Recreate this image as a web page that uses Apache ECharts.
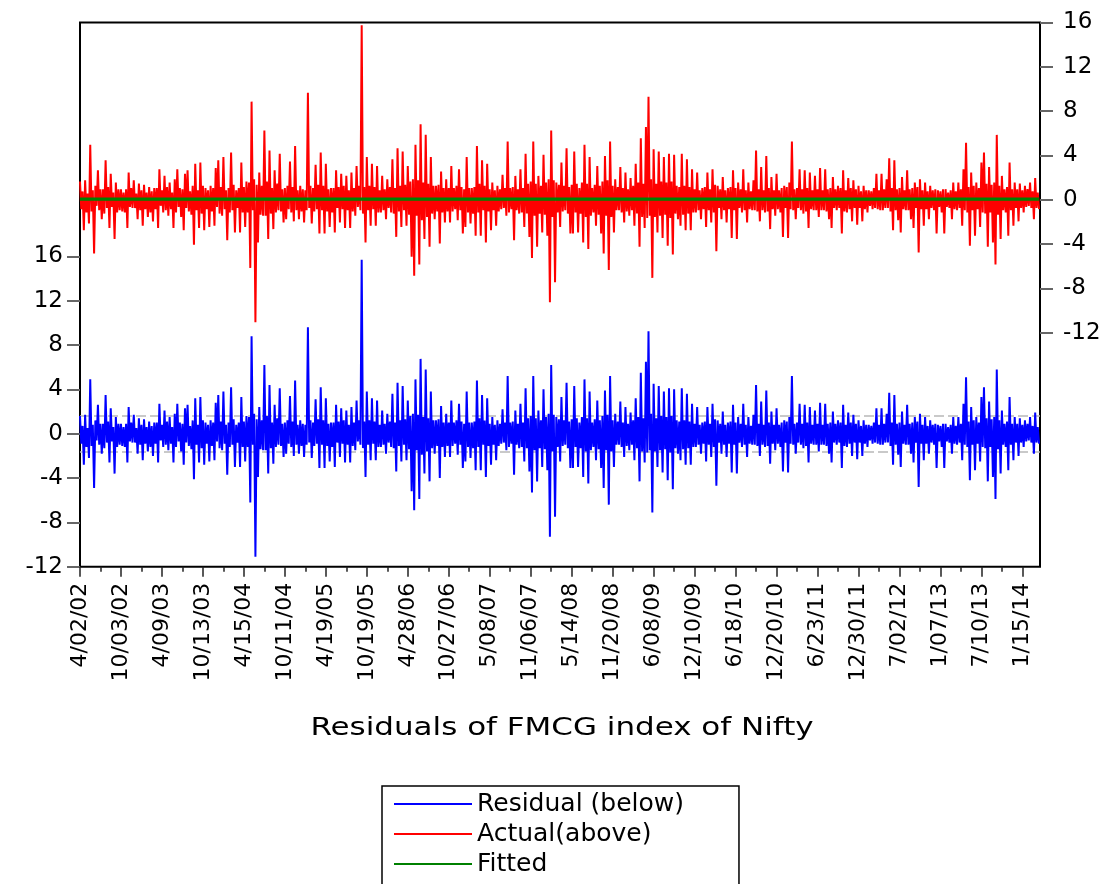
<!DOCTYPE html>
<html>
<head>
<meta charset="utf-8">
<script src="https://cdn.jsdelivr.net/npm/echarts@6.0.0/dist/echarts.min.js"></script>
<style>
html, body { margin: 0; padding: 0; background: #fff; }
#chart { width: 1119px; height: 884px; }
</style>
</head>
<body>
<div id="chart"></div>
<script>
// date labels on the bottom axis, one every ~125 trading days
var tickLabels = ['4/02/02', '10/03/02', '4/09/03', '10/13/03', '4/15/04', '10/11/04',
	'4/19/05', '10/19/05', '4/28/06', '10/27/06', '5/08/07', '11/06/07', '5/14/08',
	'11/20/08', '6/08/09', '12/10/09', '6/18/10', '12/20/10', '6/23/11', '12/30/11',
	'7/02/12', '1/07/13', '7/10/13', '1/15/14'];

// residuals, 32 readings per label step (one row per step)
var residual = [
	1.6, -0.9, 0.7, -2.8, 1.7, -1.2, 0.5, -2.2, 4.9, -1.1, 0.8, -4.9, 1.2, -0.6, 2.6, -1.0, 0.9, -1.8, 0.9, -1.3, 3.5, -0.8, 1.1, -2.6, 2.3, -0.7, 0.6, -3.6, 1.5, -1.2, 0.9, -1.0,
	0.9, -1.1, 0.6, -1.2, 0.9, -2.6, 2.4, -0.7, 1.0, -0.8, 1.7, -0.8, 0.5, -1.8, 1.4, -1.0, 0.8, -2.4, 1.3, -0.9, 0.6, -1.6, 1.1, -1.2, 0.7, -2.0, 1.0, -0.9, 1.0, -2.6, 2.7, -0.6,
	0.8, -1.2, 2.1, -1.0, 1.1, -1.5, 1.5, -0.9, 0.6, -2.6, 1.8, -1.2, 2.7, -0.7, 1.0, -1.6, 0.9, -2.8, 2.3, -0.8, 2.6, -1.1, 0.7, -1.4, 1.2, -4.1, 3.2, -1.0, 0.8, -2.6, 3.3, -1.3,
	1.2, -2.8, 1.0, -0.9, 0.8, -2.5, 1.2, -1.1, 1.0, -2.4, 2.8, -0.7, 3.5, -1.3, 1.1, -1.5, 3.8, -0.9, 0.8, -3.7, 1.0, -1.2, 4.2, -1.0, 1.3, -3.0, 0.8, -0.8, 1.0, -3.0, 3.3, -1.2,
	1.1, -2.5, 1.6, -1.2, 1.5, -6.2, 8.8, -1.0, 1.8, -11.1, 1.3, -3.9, 2.4, -1.4, 1.2, -1.5, 6.2, -1.5, 1.6, -3.6, 4.4, -1.3, 1.0, -2.7, 2.6, -1.2, 1.4, -1.0, 4.1, -1.1, 0.9, -2.1,
	1.0, -1.8, 1.2, -0.9, 3.4, -1.2, 1.1, -2.0, 4.8, -1.0, 0.8, -1.8, 1.2, -1.1, 0.9, -2.1, 0.8, -1.0, 9.6, -0.8, 1.2, -2.2, 1.0, -1.1, 3.1, -0.9, 1.3, -3.1, 4.2, -1.0, 1.2, -3.1,
	3.2, -1.1, 0.9, -2.5, 1.0, -1.2, 1.0, -3.0, 2.6, -0.8, 1.1, -2.1, 2.3, -0.9, 1.2, -2.6, 2.1, -1.0, 0.8, -2.6, 2.4, -1.1, 1.0, -1.5, 3.0, -0.7, 1.2, -1.0, 15.7, -1.3, 1.1, -3.9,
	3.8, -1.0, 1.2, -2.4, 3.2, -0.9, 1.1, -2.4, 3.0, -1.2, 0.8, -1.2, 2.1, -1.0, 0.9, -1.8, 1.8, -0.8, 1.1, -1.2, 3.6, -1.3, 1.0, -3.4, 4.6, -1.1, 1.2, -2.5, 4.3, -1.0, 1.3, -2.4,
	3.0, -1.4, 1.6, -5.2, 1.8, -6.9, 4.9, -1.5, 1.7, -5.9, 6.75, -1.9, 1.5, -3.6, 5.8, -1.6, 1.4, -4.3, 3.8, -1.3, 1.2, -1.8, 1.2, -1.1, 1.3, -4.0, 2.5, -1.2, 1.0, -2.1, 1.8, -1.1,
	1.0, -2.1, 3.0, -1.1, 1.0, -0.9, 1.2, -1.9, 2.7, -1.0, 1.1, -3.1, 0.9, -2.5, 3.8, -1.2, 1.0, -2.2, 1.0, -1.3, 1.1, -3.3, 4.8, -1.2, 1.4, -3.3, 3.5, -1.0, 1.2, -3.9, 3.2, -1.1,
	0.9, -2.8, 1.5, -1.0, 0.8, -2.4, 1.2, -1.1, 0.9, -0.9, 2.2, -0.8, 1.0, -1.5, 5.2, -1.2, 1.0, -0.9, 1.1, -3.7, 2.1, -1.0, 0.9, -1.3, 2.7, -1.2, 1.0, -2.5, 4.1, -1.3, 1.4, -3.4,
	1.6, -5.3, 5.2, -1.5, 1.4, -4.3, 2.1, -1.3, 1.2, -3.0, 4.0, -1.4, 1.5, -3.3, 1.8, -9.3, 6.2, -1.6, 1.7, -7.5, 1.5, -1.2, 1.3, -2.5, 3.3, -1.1, 1.2, -1.0, 4.6, -1.3, 1.1, -3.1,
	1.3, -3.1, 4.3, -1.2, 1.4, -3.0, 1.0, -1.3, 1.5, -3.9, 4.9, -1.6, 1.4, -4.5, 3.8, -1.5, 1.0, -1.2, 1.3, -2.4, 3.0, -1.4, 1.2, -3.1, 1.6, -4.9, 3.9, -1.5, 1.7, -6.4, 5.2, -1.6,
	1.2, -3.0, 1.8, -1.0, 1.1, -1.0, 2.9, -1.2, 1.0, -2.1, 2.4, -1.1, 0.9, -1.5, 1.9, -1.0, 1.2, -2.4, 3.2, -1.3, 1.5, -4.3, 5.5, -1.6, 1.4, -2.6, 6.5, -1.7, 9.25, -1.5, 1.8, -7.1,
	4.5, -1.6, 1.4, -3.0, 4.3, -1.5, 1.6, -3.5, 3.8, -1.4, 1.5, -4.2, 4.1, -1.7, 1.6, -5.0, 4.0, -1.3, 1.2, -1.8, 1.1, -2.4, 4.1, -1.4, 1.2, -2.8, 3.6, -1.3, 1.1, -2.8, 2.7, -1.2,
	0.9, -1.2, 2.4, -1.0, 0.8, -1.8, 1.0, -0.9, 1.1, -2.5, 2.4, -1.0, 0.9, -2.1, 2.7, -1.2, 1.3, -4.7, 1.2, -0.8, 0.9, -1.8, 2.0, -1.0, 0.8, -2.1, 1.0, -0.9, 1.1, -3.5, 2.6, -1.0,
	1.0, -3.6, 1.5, -0.8, 0.9, -1.2, 2.7, -1.0, 0.8, -2.1, 1.5, -0.9, 0.7, -1.0, 1.7, -1.0, 4.4, -1.1, 0.9, -2.0, 2.9, -1.0, 0.8, -1.2, 3.9, -1.1, 1.0, -2.7, 2.0, -0.9, 0.8, -1.5,
	2.3, -0.9, 0.8, -1.2, 1.0, -3.4, 1.2, -0.8, 1.1, -3.5, 1.5, -0.9, 5.2, -1.0, 0.9, -1.8, 1.0, -0.8, 2.7, -1.0, 0.9, -1.3, 2.6, -1.1, 1.0, -2.6, 2.4, -0.9, 0.8, -1.0, 2.1, -1.0,
	0.9, -1.6, 2.8, -1.0, 0.8, -1.0, 2.7, -1.1, 0.9, -1.8, 1.0, -2.6, 2.0, -0.8, 0.9, -1.0, 1.2, -0.8, 1.0, -3.1, 2.6, -1.1, 0.8, -1.2, 1.9, -0.9, 1.0, -2.0, 1.7, -0.8, 0.9, -2.3,
	1.2, -0.8, 0.7, -2.0, 1.2, -0.9, 0.8, -1.2, 0.8, -0.6, 0.7, -0.9, 1.0, -0.8, 2.3, -0.9, 0.8, -1.0, 2.3, -1.0, 0.9, -0.8, 1.8, -0.8, 3.7, -1.1, 1.0, -2.8, 3.5, -1.0, 0.9, -1.9,
	1.0, -3.0, 2.0, -0.9, 0.8, -1.0, 2.6, -1.0, 0.9, -1.8, 1.0, -2.6, 1.5, -0.8, 1.1, -4.8, 1.8, -0.9, 0.8, -2.4, 1.5, -0.9, 0.7, -1.8, 1.2, -0.8, 0.8, -1.0, 0.9, -3.1, 0.8, -0.7,
	0.7, -1.2, 0.9, -3.1, 0.9, -0.7, 0.6, -0.8, 0.8, -1.8, 1.5, -0.9, 0.7, -1.0, 1.5, -0.8, 0.9, -2.4, 2.7, -1.0, 5.1, -1.2, 1.1, -4.2, 2.4, -1.0, 1.2, -3.3, 1.5, -0.9, 1.0, -2.5,
	3.3, -1.2, 4.2, -1.3, 1.4, -4.3, 2.9, -1.2, 1.3, -3.9, 1.5, -5.9, 5.8, -1.4, 1.2, -3.6, 2.1, -1.0, 0.9, -1.2, 1.1, -3.3, 3.3, -1.0, 0.9, -2.4, 1.5, -0.8, 0.9, -2.0, 1.4, -0.8,
	0.8, -1.2, 1.2, -0.7, 0.9, -0.6, 1.5, -0.8, 0.7, -1.8, 1.9, -0.8, 0.6, -0.9
];
var fittedLevel = 0.06;   // fitted value (flat green line)
var seBand = 1.62;        // +/- 1 S.E. dashed lines
var obsPerStep = 32;
var yTicks = [-12, -8, -4, 0, 4, 8, 12, 16];
var chartTitle = 'Residuals of FMCG index of Nifty';

var xMax = 23.43;
var majorTicks = [], minorTicks = [];
for (var k = 0; k < tickLabels.length; k++) {
	majorTicks.push(k);
	if (k + 0.5 < xMax) minorTicks.push(k + 0.5);
}

var resData = [], actData = [], fitData = [];
for (var i = 0; i < residual.length; i++) {
	var x = i / obsPerStep;
	resData.push([x, residual[i]]);
	actData.push([x, +(residual[i] + fittedLevel).toFixed(3)]);
	fitData.push([x, fittedLevel]);
}

var font = 'DejaVu Sans';
var chart = echarts.init(document.getElementById('chart'));
chart.setOption({
	animation: false,
	textStyle: { fontFamily: font },
	grid: {
		left: 80, right: 79, top: 22.5, bottom: 317.3,
		show: true, borderColor: '#000', borderWidth: 2,
		backgroundColor: 'transparent'
	},
	xAxis: [
		{
			type: 'value', position: 'bottom',
			min: 0, max: xMax, interval: 1,
			axisLine: { show: false, onZero: false },
			splitLine: { show: false },
			axisTick: {
				show: true, length: 10, customValues: majorTicks,
				lineStyle: { color: '#222', width: 1.5 }
			},
			axisLabel: {
				customValues: majorTicks,
				rotate: 90, margin: 16,
				fontSize: 22, color: '#000', fontFamily: font,
				formatter: function (value) {
					return tickLabels[Math.round(value)] || '';
				}
			}
		},
		{
			type: 'value', position: 'bottom',
			min: 0, max: xMax,
			axisLine: { show: false, onZero: false },
			splitLine: { show: false },
			axisLabel: { show: false },
			axisTick: {
				show: true, length: 5, customValues: minorTicks,
				lineStyle: { color: '#222', width: 1.5 }
			}
		}
	],
	yAxis: [
		{
			type: 'value', position: 'left',
			min: -12, max: 37.1,
			axisLine: { show: false, onZero: false },
			splitLine: { show: false },
			axisTick: {
				show: true, length: 13, customValues: yTicks,
				lineStyle: { color: '#666', width: 2 }
			},
			axisLabel: {
				customValues: yTicks, margin: 17,
				fontSize: 23, color: '#000', fontFamily: font
			}
		},
		{
			type: 'value', position: 'right',
			min: -33.1, max: 16,
			axisLine: { show: false, onZero: false },
			splitLine: { show: false },
			axisTick: {
				show: true, length: 13, customValues: yTicks,
				lineStyle: { color: '#666', width: 2 }
			},
			axisLabel: {
				customValues: yTicks, margin: 23,
				fontSize: 23, color: '#000', fontFamily: font
			}
		}
	],
	legend: {
		data: ['Residual (below)', 'Actual(above)', 'Fitted'],
		orient: 'vertical',
		left: 382, top: 786, height: 92,
		borderColor: '#000', borderWidth: 1.5,
		padding: [4, 55, 14, 12],
		icon: 'rect',
		itemWidth: 78, itemHeight: 2, itemGap: 2,
		textStyle: { fontSize: 25, color: '#000', lineHeight: 28, fontFamily: font }
	},
	graphic: [
		{
			type: 'text', x: 562, y: 729, scaleX: 1.29,
			style: {
				text: chartTitle,
				font: '24px "DejaVu Sans"',
				fill: '#000',
				align: 'center', verticalAlign: 'middle',
				textAlign: 'center', textVerticalAlign: 'middle'
			}
		}
	],
	series: [
		{
			name: 'Residual (below)',
			type: 'line',
			xAxisIndex: 0, yAxisIndex: 0,
			symbol: 'none',
			data: resData,
			itemStyle: { color: '#0000ff' },
			lineStyle: { color: '#0000ff', width: 2 },
			markLine: {
				silent: true, symbol: 'none', z: 1,
				label: { show: false },
				lineStyle: { color: '#b8b8b8', type: [10, 4], width: 1.5 },
				data: [{ yAxis: seBand }, { yAxis: -seBand }]
			}
		},
		{
			name: 'Actual(above)',
			type: 'line',
			xAxisIndex: 0, yAxisIndex: 1,
			symbol: 'none',
			data: actData,
			itemStyle: { color: '#ff0000' },
			lineStyle: { color: '#ff0000', width: 2 }
		},
		{
			name: 'Fitted',
			type: 'line',
			xAxisIndex: 0, yAxisIndex: 1,
			symbol: 'none',
			data: fitData,
			itemStyle: { color: '#008000' },
			lineStyle: { color: '#008000', width: 3.2 }
		}
	]
});
</script>
</body>
</html>
